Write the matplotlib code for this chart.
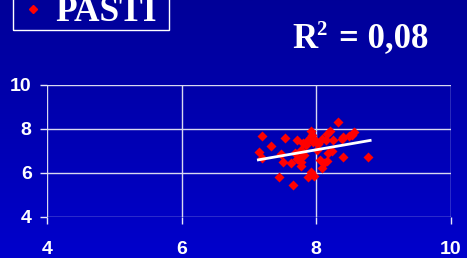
import matplotlib
matplotlib.use('Agg')
import matplotlib.pyplot as plt
import numpy as np

# Scatter values
px = [7.20, 7.15, 7.20, 7.32, 7.54, 7.48, 7.50, 7.62, 7.45, 7.65,
      7.72, 7.68, 7.78, 7.78, 7.77, 7.78, 7.82, 7.85, 7.88, 7.92,
      7.93, 7.92, 7.87, 7.97, 7.98, 8.01, 8.06, 8.08, 8.11, 8.16,
      8.08, 8.15, 8.16, 8.20, 8.18, 8.23, 8.25, 8.32, 8.38, 8.40,
      8.39, 8.48, 8.56, 8.53, 8.77, 7.72, 7.80, 7.90, 7.95, 8.02]
py = [7.68, 6.95, 6.67, 7.20, 7.56, 6.86, 6.47, 6.44, 5.80, 5.45,
      7.50, 6.90, 7.05, 6.74, 6.51, 6.32, 6.82, 7.27, 7.47, 7.88,
      7.73, 6.06, 5.80, 5.86, 7.50, 7.05, 6.59, 6.21, 6.44, 6.56,
      7.53, 7.50, 7.77, 7.88, 6.90, 6.97, 7.47, 8.30, 7.53, 7.61,
      6.70, 7.65, 7.83, 7.73, 6.74, 6.64, 7.35, 7.60, 7.40, 7.30]

# trend line (linear fit shown in the original)
trend_x = [7.14, 8.80]
trend_y = [6.59, 7.47]

series_name = 'PASTI'
r2_value = '0,08'
ticks = [4, 6, 8, 10]

fig = plt.figure(figsize=(4.67, 2.58), dpi=100)

# blue gradient background
bg = fig.add_axes([0, 0, 1, 1], zorder=-1)
grad = np.linspace(0, 1, 256).reshape(-1, 1)
cmap = matplotlib.colors.LinearSegmentedColormap.from_list('bg', ['#000098', '#0000cc'])
bg.imshow(grad, aspect='auto', cmap=cmap, extent=[0, 1, 0, 1])
bg.axis('off')

ax = fig.add_axes([0.1006, 0.159, 0.865, 0.513])
ax.patch.set_alpha(0)
ax.scatter(px, py, marker='D', s=26, color='#ff0000', zorder=3, linewidths=0)
ax.plot(trend_x, trend_y, color='white', lw=2, zorder=4)

ax.set_xlim(4, 10)
ax.set_ylim(4, 10)
ax.set_xticks(ticks)
ax.set_yticks(ticks)
ax.grid(True, color='#d8d8f0', lw=1)
for s in ax.spines.values():
    s.set_visible(False)
ax.tick_params(colors='#e8e8f8', length=5, width=1, pad=6)
ax.tick_params(axis='x', pad=12)
for lab in ax.get_xticklabels() + ax.get_yticklabels():
    lab.set_color('white')
    lab.set_fontweight('bold')
    lab.set_fontsize(14)
    lab.set_family('Liberation Sans')

# legend box at top left
fig.patches.append(plt.Rectangle((12.5 / 467, 1 - 30 / 258), 156.5 / 467, 40 / 258,
                                 transform=fig.transFigure, fill=False,
                                 edgecolor='white', lw=1))
fig.lines.append(matplotlib.lines.Line2D([33 / 467], [1 - 9 / 258], marker='D',
                                         markersize=4.5, color='red', lw=0,
                                         transform=fig.transFigure))
fig.text(55 / 467, 1 - 21 / 258, series_name, color='white', fontsize=25.5,
         fontweight='bold', family='Liberation Serif', va='baseline')

# R squared annotation
fig.text(292 / 467, 1 - 47.5 / 258, 'R', color='white', fontsize=25,
         fontweight='bold', family='Liberation Serif', va='baseline')
fig.text(316 / 467, 1 - 35 / 258, '2', color='white', fontsize=15,
         fontweight='bold', family='Liberation Serif', va='baseline')
fig.text(339 / 467, 1 - 47.5 / 258, '= ' + r2_value, color='white', fontsize=25,
         fontweight='bold', family='Liberation Serif', va='baseline')

fig.savefig('out.png', dpi=100)
